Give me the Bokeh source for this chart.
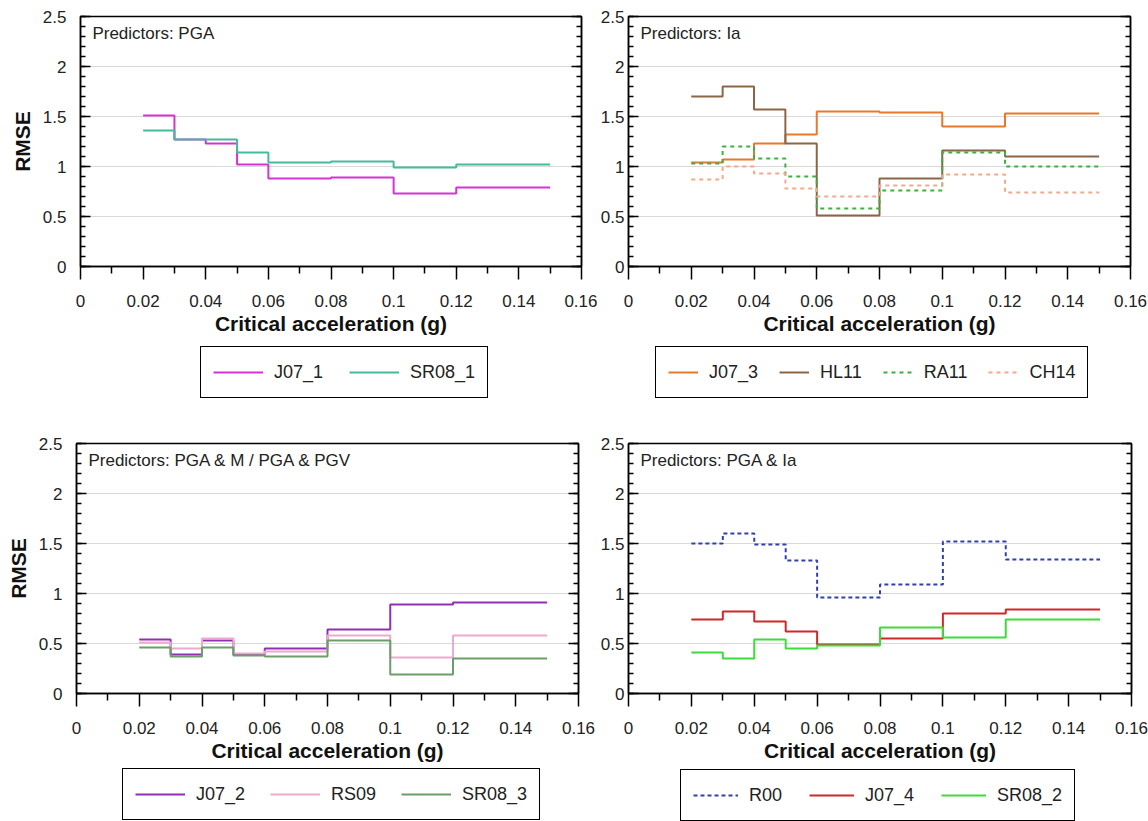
from bokeh.plotting import figure
from bokeh.models import Label, FixedTicker, LinearAxis, Legend, LegendItem, Range1d
from bokeh.layouts import column, row
from bokeh.embed import file_html
from bokeh.resources import INLINE

# ---- data ----
x_edges = [0.02, 0.03, 0.04, 0.05, 0.06, 0.08, 0.10, 0.12, 0.15]

x_ticks = [0, 0.02, 0.04, 0.06, 0.08, 0.1, 0.12, 0.14, 0.16]
x_tick_labels = ["0", "0.02", "0.04", "0.06", "0.08", "0.1", "0.12", "0.14", "0.16"]
y_ticks = [0, 0.5, 1, 1.5, 2, 2.5]
y_tick_labels = ["0", "0.5", "1", "1.5", "2", "2.5"]

# Panel 1: PGA
J07_1 = [1.51, 1.27, 1.23, 1.02, 0.88, 0.89, 0.73, 0.79]
SR08_1 = [1.36, 1.27, 1.27, 1.14, 1.04, 1.05, 0.99, 1.02]
# Panel 2: Ia
J07_3 = [1.04, 1.07, 1.23, 1.32, 1.55, 1.54, 1.40, 1.53]
HL11 = [1.70, 1.80, 1.57, 1.23, 0.51, 0.88, 1.16, 1.10]
RA11 = [1.03, 1.20, 1.08, 0.90, 0.58, 0.76, 1.14, 1.00]
CH14 = [0.87, 1.00, 0.93, 0.78, 0.70, 0.81, 0.92, 0.74]
# Panel 3: PGA & M / PGA & PGV
J07_2 = [0.54, 0.39, 0.53, 0.39, 0.45, 0.64, 0.89, 0.91]
RS09 = [0.51, 0.45, 0.55, 0.40, 0.42, 0.58, 0.36, 0.58]
SR08_3 = [0.46, 0.37, 0.46, 0.38, 0.37, 0.53, 0.19, 0.35]
# Panel 4: PGA & Ia
R00 = [1.50, 1.60, 1.49, 1.33, 0.96, 1.09, 1.52, 1.34]
J07_4 = [0.74, 0.82, 0.72, 0.62, 0.49, 0.55, 0.80, 0.84]
SR08_2 = [0.41, 0.35, 0.54, 0.45, 0.48, 0.66, 0.56, 0.74]

FONT = "Liberation Sans"
TXT = "#222222"


def make_panel(title, series, fw, fh, borders, ylabel=None):
    left, right, top, bottom = borders
    p = figure(output_backend="svg", toolbar_location=None,
               frame_width=fw, frame_height=fh,
               x_range=Range1d(0, 0.16), y_range=Range1d(0, 2.5),
               min_border_left=left, min_border_right=right,
               min_border_top=top, min_border_bottom=bottom,
               x_axis_label="Critical acceleration (g)",
               y_axis_label=ylabel)
    p.background_fill_color = "white"
    p.border_fill_color = "white"
    p.outline_line_color = "black"
    p.outline_line_width = 1.5
    p.outline_line_alpha = 1

    xminor = [0.01 + 0.02 * i for i in range(8)]
    yminor = [round(0.1 * i, 2) for i in range(26)]

    xa = p.xaxis[0]
    xa.ticker = FixedTicker(ticks=x_ticks, minor_ticks=xminor)
    xa.major_label_overrides = {t: s for t, s in zip(x_ticks, x_tick_labels)}
    xa.major_tick_out = 13
    xa.major_tick_in = 0
    xa.minor_tick_out = 7
    xa.minor_tick_in = 0
    xa.major_tick_line_width = 1.5
    xa.minor_tick_line_width = 1.5
    xa.axis_line_width = 1.5
    xa.major_label_standoff = 15
    xa.major_label_text_font = FONT
    xa.major_label_text_font_size = "17px"
    xa.major_label_text_color = TXT
    xa.axis_label_text_font = FONT
    xa.axis_label_text_font_size = "21px"
    xa.axis_label_text_font_style = "bold"
    xa.axis_label_text_color = "#111111"
    xa.axis_label_standoff = 2

    ya = p.yaxis[0]
    ya.ticker = FixedTicker(ticks=y_ticks, minor_ticks=yminor)
    ya.major_label_overrides = {t: s for t, s in zip(y_ticks, y_tick_labels)}
    ya.major_tick_out = 0
    ya.major_tick_in = 10
    ya.minor_tick_out = 0
    ya.minor_tick_in = 5
    ya.major_tick_line_width = 1.5
    ya.minor_tick_line_width = 1.5
    ya.axis_line_width = 1.5
    ya.major_label_standoff = 14 if ylabel else 4
    ya.major_label_text_font = FONT
    ya.major_label_text_font_size = "17px"
    ya.major_label_text_color = TXT
    ya.axis_label_text_font = FONT
    ya.axis_label_text_font_size = "21px"
    ya.axis_label_text_font_style = "bold"
    ya.axis_label_text_color = "#111111"
    ya.axis_label_standoff = 6

    ra = LinearAxis(ticker=FixedTicker(ticks=y_ticks, minor_ticks=yminor))
    ra.major_tick_out = 0
    ra.major_tick_in = 10
    ra.minor_tick_out = 0
    ra.minor_tick_in = 5
    ra.major_tick_line_width = 1.5
    ra.minor_tick_line_width = 1.5
    ra.axis_line_width = 1.5
    ra.major_label_overrides = {t: "" for t in y_ticks}
    ra.major_label_standoff = 0
    p.add_layout(ra, "right")

    p.xgrid.grid_line_color = None
    p.ygrid.ticker = FixedTicker(ticks=[0.5, 1, 1.5, 2])
    p.ygrid.grid_line_color = "#d9d9d9"
    p.ygrid.grid_line_width = 1

    for name, vals, color, dash in series:
        ys = list(vals) + [vals[-1]]
        p.step(x_edges, ys, mode="after", line_color=color, line_width=2,
               line_dash=dash)

    p.add_layout(Label(x=0.0038, y=2.43, text=title, text_baseline="top",
                       text_font=FONT, text_font_size="17px", text_color=TXT))
    return p


def make_legend(series, width, height, loc, glyph_w, spacing):
    # a strip that holds only the legend box; its ranges keep the series out of view
    lf = figure(output_backend="svg", toolbar_location=None,
                width=width, height=height, x_axis_type=None, y_axis_type=None,
                x_range=Range1d(10, 11), y_range=Range1d(10, 11),
                min_border=0, min_border_left=0, min_border_right=0,
                min_border_top=0, min_border_bottom=0)
    lf.outline_line_color = None
    lf.background_fill_color = "white"
    lf.border_fill_color = "white"
    lf.xgrid.grid_line_color = None
    lf.ygrid.grid_line_color = None
    items = []
    for name, vals, color, dash in series:
        ys = list(vals) + [vals[-1]]
        r = lf.step(x_edges, ys, mode="after", line_color=color, line_width=2,
                    line_dash=dash)
        items.append(LegendItem(label=name, renderers=[r]))
    leg = Legend(items=items, orientation="horizontal", location=loc)
    leg.border_line_color = "black"
    leg.border_line_width = 1.5
    leg.border_line_alpha = 1
    leg.background_fill_color = "white"
    leg.background_fill_alpha = 1
    leg.padding = 12
    leg.spacing = spacing
    leg.glyph_width = glyph_w
    leg.label_standoff = 11
    leg.label_text_font = FONT
    leg.label_text_font_size = "18px"
    leg.label_text_color = TXT
    leg.label_height = 26
    leg.margin = 0
    lf.add_layout(leg)
    return lf


s1 = [("J07_1", J07_1, "#d633d6", "solid"),
      ("SR08_1", SR08_1, "#44bb9c", "solid")]
s2 = [("J07_3", J07_3, "#e8792b", "solid"),
      ("HL11", HL11, "#8b6646", "solid"),
      ("RA11", RA11, "#3cb043", "4 4"),
      ("CH14", CH14, "#f5a88a", "4 4")]
s3 = [("J07_2", J07_2, "#9030b0", "solid"),
      ("RS09", RS09, "#eeaacc", "solid"),
      ("SR08_3", SR08_3, "#6b9e6b", "solid")]
s4 = [("R00", R00, "#3040b0", "4 3"),
      ("J07_4", J07_4, "#d02828", "solid"),
      ("SR08_2", SR08_2, "#3ddc3d", "solid")]

p1 = make_panel("Predictors: PGA", s1, 501, 250, (80, 16, 16, 78), ylabel="RMSE")
p2 = make_panel("Predictors: Ia", s2, 502, 250, (26, 23, 16, 78))
p3 = make_panel("Predictors: PGA & M / PGA & PGV", s3, 502, 250, (76, 19, 30, 77),
                ylabel="RMSE")
p4 = make_panel("Predictors: PGA & Ia", s4, 503, 250, (26, 22, 33, 74))

l1 = make_legend(s1, 597, 66, (200, 12), 50, 26)
l2 = make_legend(s2, 551, 66, (58, 12), 30, 21)
l3 = make_legend(s3, 597, 54, (122, 1), 50, 25)
l4 = make_legend(s4, 551, 54, (83, 0), 45, 27)

layout = column(row(p1, p2, spacing=0), row(l1, l2, spacing=0),
                row(p3, p4, spacing=0), row(l3, l4, spacing=0), spacing=0)
open("out.html", "w").write(file_html(layout, INLINE))
